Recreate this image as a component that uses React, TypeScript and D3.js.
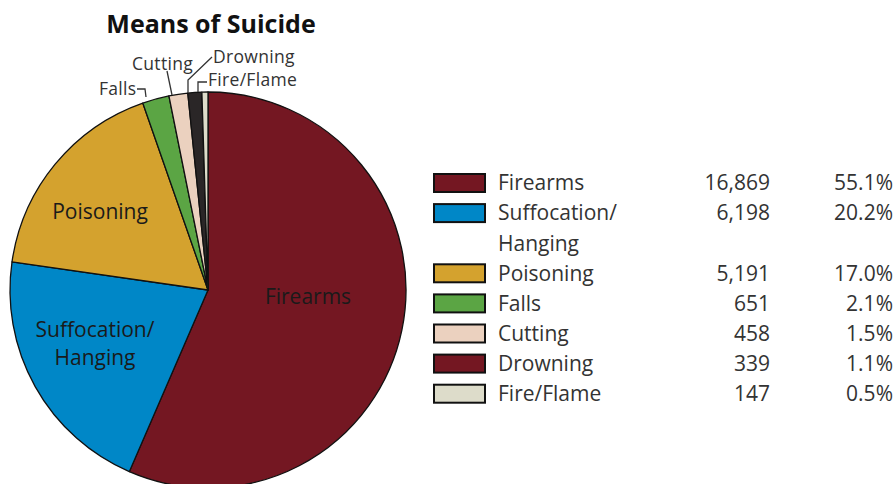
import React from 'react';
import * as d3 from 'd3';

const categories = ['Firearms', 'Suffocation/Hanging', 'Poisoning', 'Falls', 'Cutting', 'Drowning', 'Fire/Flame'];
const values = [16869, 6198, 5191, 651, 458, 339, 147];
const percentLabels = ['55.1%', '20.2%', '17.0%', '2.1%', '1.5%', '1.1%', '0.5%'];
const pieColors = ['#741722', '#0087c7', '#d4a22e', '#5ba544', '#ebd1bf', '#2a2627', '#dddcca'];
const legendColors = ['#741722', '#0087c7', '#d4a22e', '#5ba544', '#ebd1bf', '#741722', '#dddcca'];
const legendLines = [['Firearms'], ['Suffocation/', 'Hanging'], ['Poisoning'], ['Falls'], ['Cutting'], ['Drowning'], ['Fire/Flame']];

const W = 896;
const H = 484;
const FONT = "'Open Sans', 'Noto Sans', sans-serif";

export default function App() {
  const cx = 208;
  const cy = 290;
  const R = 198;
  const pie = d3.pie<number>().sort(null).value((d) => d)(values);
  const arc = d3.arc<d3.PieArcDatum<number>>().innerRadius(0).outerRadius(R);
  const fmt = d3.format(',');

  const inner: { i: number; lines: string[]; dx: number; dy: number }[] = [
    { i: 0, lines: ['Firearms'], dx: 100, dy: 7 },
    { i: 1, lines: ['Suffocation/', 'Hanging'], dx: -113, dy: 54 },
    { i: 2, lines: ['Poisoning'], dx: -108, dy: -78 },
  ];

  const legX = 434;
  const rowH = 30.1;
  const row0 = 183;
  let slot = 0;
  const legendRows = categories.map((c, i) => {
    const s = slot;
    slot += legendLines[i].length;
    return { i, s };
  });

  const outerTextStyle = { fontFamily: FONT, fontSize: 17.5, fill: '#333', letterSpacing: 0.3 } as const;
  const legFont = 21;

  return (
    <svg width={W} height={H} style={{ position: 'absolute', left: 0, top: 0, background: '#fff' }}>
      <text x={211} y={33} textAnchor="middle" fontFamily={FONT} fontWeight={700} fontSize={25} fill="#111">
        Means of Suicide
      </text>
      <g transform={`translate(${cx},${cy})`}>
        {pie.map((p, i) => (
          <path key={i} d={arc(p) || ''} fill={pieColors[i]} stroke="#111" strokeWidth={1.3} strokeLinejoin="round" />
        ))}
        {inner.map((l) =>
          l.lines.map((t, k) => (
            <text
              key={l.i + '-' + k}
              x={l.dx}
              y={l.dy + (k - (l.lines.length - 1) / 2) * 28}
              dy="0.35em"
              textAnchor="middle"
              fontFamily={FONT}
              fontSize={21}
              fill="#1a1a1a"
            >
              {t}
            </text>
          ))
        )}
      </g>
      <g fill="none" stroke="#333" strokeWidth={1.3}>
        <path d="M137,89 L145,89 L146,97" />
        <path d="M167,71 L172,95" />
        <path d="M212,57 L188,80 L188,93" />
        <path d="M207,82 L198,82 L198,92" />
      </g>
      <text x={99} y={95} {...outerTextStyle}>Falls</text>
      <text x={132} y={70} {...outerTextStyle}>Cutting</text>
      <text x={213} y={63} {...outerTextStyle}>Drowning</text>
      <text x={208} y={86} {...outerTextStyle}>Fire/Flame</text>

      {legendRows.map(({ i, s }) => {
        const y = row0 + s * rowH;
        return (
          <g key={i}>
            <rect x={legX} y={y - 9} width={51} height={18} fill={legendColors[i]} stroke="#111" strokeWidth={2} />
            {legendLines[i].map((t, k) => (
              <text key={k} x={498} y={y + k * rowH} dy="0.35em" fontFamily={FONT} fontSize={legFont} fill="#333">
                {t}
              </text>
            ))}
            <text x={770} y={y} dy="0.35em" textAnchor="end" fontFamily={FONT} fontSize={legFont} fill="#333">
              {fmt(values[i])}
            </text>
            <text x={893} y={y} dy="0.35em" textAnchor="end" fontFamily={FONT} fontSize={legFont} fill="#333">
              {percentLabels[i]}
            </text>
          </g>
        );
      })}
    </svg>
  );
}
